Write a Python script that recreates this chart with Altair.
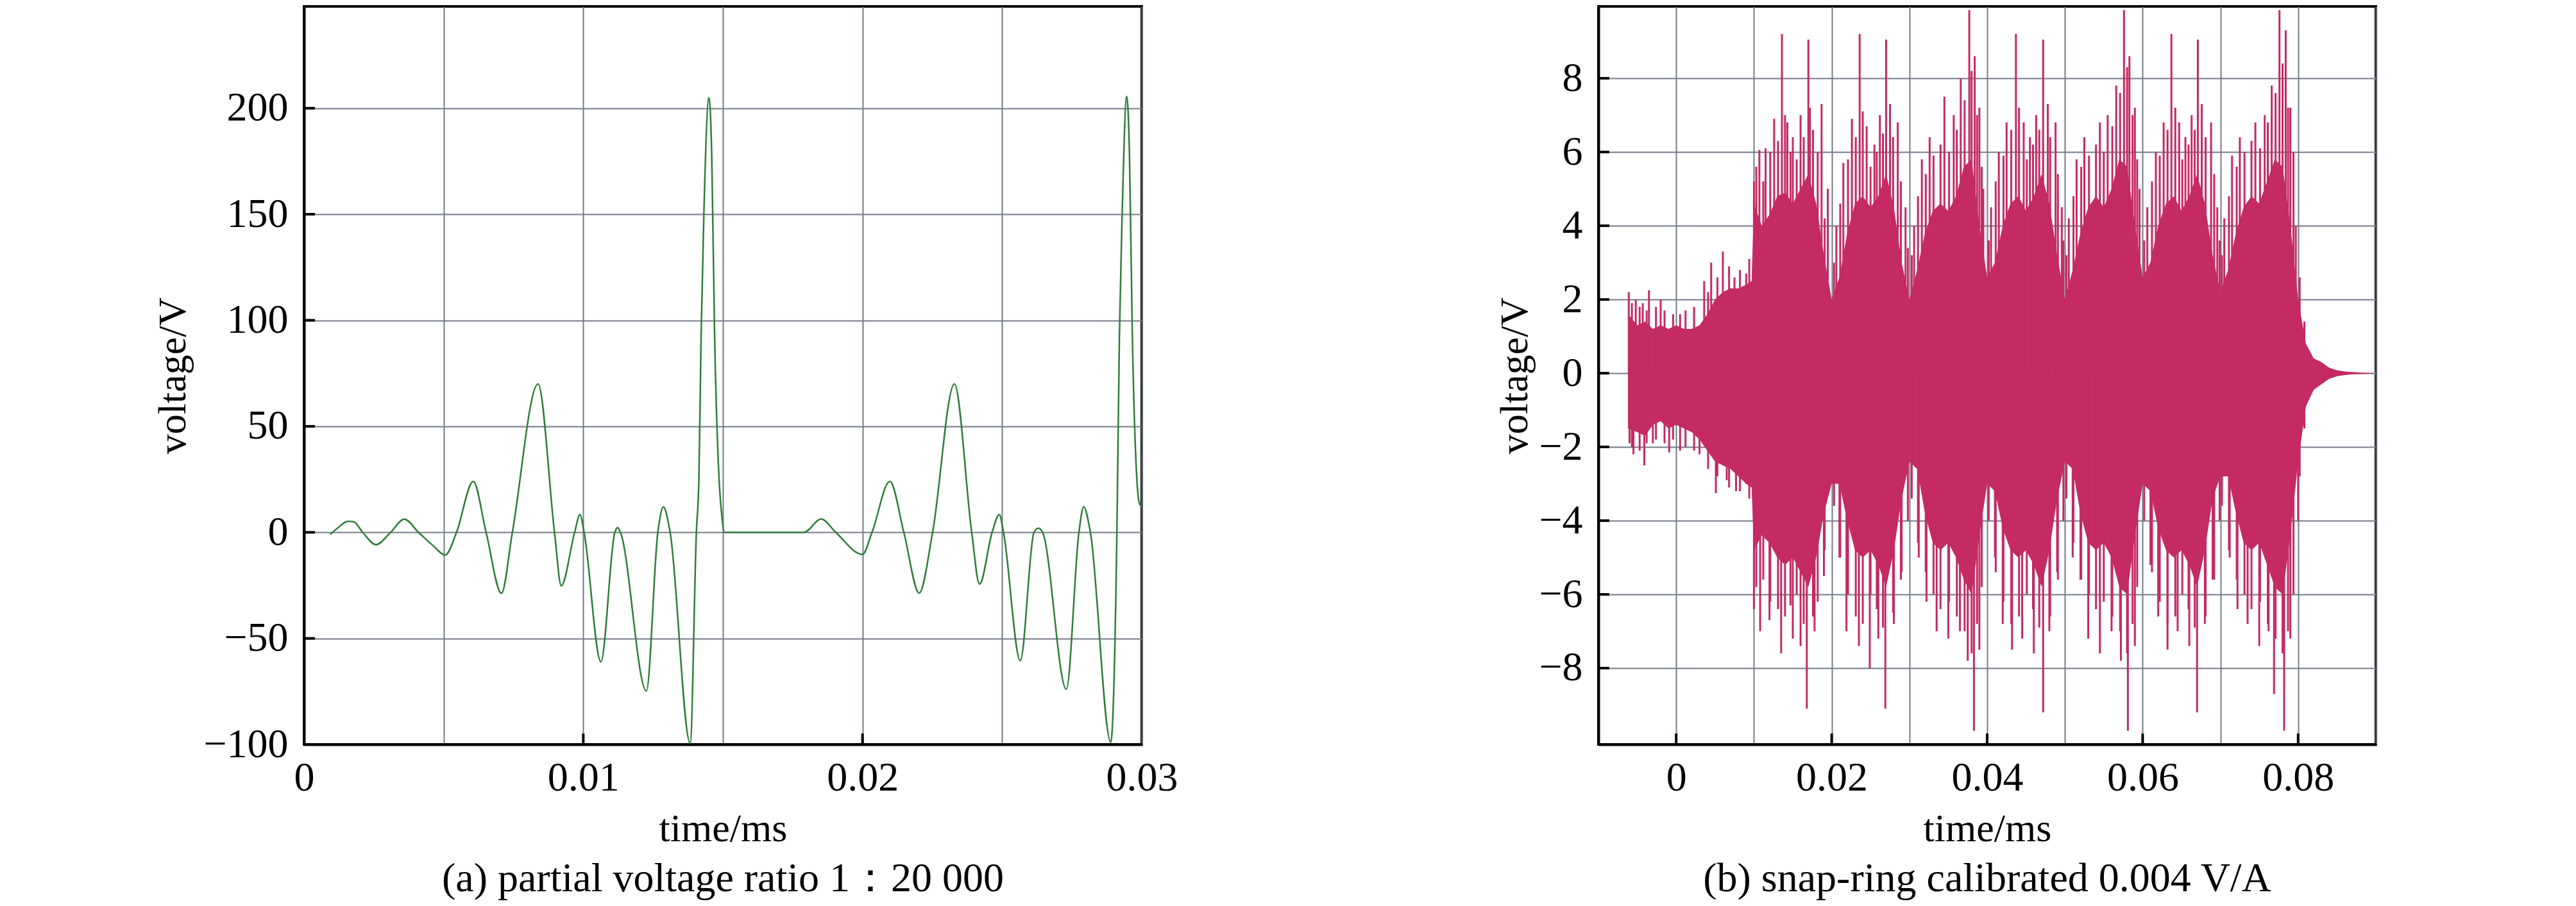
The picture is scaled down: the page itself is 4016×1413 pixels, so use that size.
import altair as alt
import pandas as pd

FONT = "Liberation Serif"
GRID = "#737a88"
GREEN = "#2f7d3a"
CRIMSON = "#c42a63"

# ---------------- (a) partial voltage ratio ----------------
a_time = [0.00094, 0.0012, 0.00157, 0.00178, 0.0021, 0.00258, 0.0031, 0.00359, 0.0041,
          0.0046, 0.00506, 0.00546, 0.00606, 0.00652, 0.00707, 0.00746, 0.00838, 0.00897,
          0.00921, 0.00969, 0.00988, 0.01003, 0.01063, 0.01113, 0.01123, 0.01133, 0.01226,
          0.01267, 0.01287, 0.01311, 0.01383, 0.01405, 0.01414, 0.01422, 0.01432, 0.0145,
          0.0146, 0.0147, 0.01486, 0.01496, 0.01506, 0.0179, 0.01852, 0.01904, 0.0200,
          0.02034, 0.02098, 0.02148, 0.02203, 0.02251, 0.02329, 0.02391, 0.02419, 0.02464,
          0.0249, 0.02505, 0.02565, 0.02614, 0.0263, 0.02645, 0.0273, 0.02775, 0.02792,
          0.02816, 0.02889, 0.02911, 0.0292, 0.0293, 0.02946, 0.02956, 0.02966, 0.02982,
          0.02992, 0.0300]
a_volt = [-1, 2, 5.2, 5, 0, -5.8, 0, 6.2, 0,
          -6, -10.7, 0, 24, 0, -28.7, 0, 70, 0,
          -25.2, 0, 8.4, 0, -61, 0, 2.3, 0, -74.8,
          0, 12, 0, -99.6, 0, 25, 93, 151, 205,
          178, 95, 26, 8, 0, 0, 6.3, 0, -10.4,
          0, 24, 0, -28.6, 0, 70, 0, -24.4, 0,
          8.4, 0, -60.5, 0, 2, 0, -74, 0, 12,
          0, -99, 0, 93, 151, 205.6, 178, 95, 26,
          13.5, 12]

a_xgrid = [0, 0.005, 0.01, 0.015, 0.02, 0.025, 0.03]
a_xlabels = ["0", "0.01", "0.02", "0.03"]
a_xticks = [0.01, 0.02]
a_yticks = [-100, -50, 0, 50, 100, 150, 200]
a_domain_x = [0, 0.03]
a_domain_y = [-100, 248]

# ---------------- (b) snap-ring ----------------
b_time = [-0.0062, -0.005, -0.004, -0.003, -0.002, -0.001, 0.000, 0.001, 0.002, 0.003,
          0.004, 0.005, 0.006, 0.007, 0.008, 0.009, 0.0097, 0.010, 0.011, 0.012,
          0.013, 0.014, 0.015, 0.016, 0.017, 0.018, 0.019, 0.020, 0.021, 0.022,
          0.023, 0.024, 0.025, 0.026, 0.027, 0.028, 0.029, 0.030, 0.031, 0.032,
          0.033, 0.034, 0.035, 0.036, 0.037, 0.038, 0.039, 0.040, 0.041, 0.042,
          0.043, 0.044, 0.045, 0.046, 0.047, 0.048, 0.049, 0.050, 0.051, 0.052,
          0.053, 0.054, 0.055, 0.056, 0.057, 0.058, 0.059, 0.060, 0.061, 0.062,
          0.063, 0.064, 0.065, 0.066, 0.067, 0.068, 0.069, 0.070, 0.071, 0.072,
          0.073, 0.074, 0.075, 0.076, 0.077, 0.078, 0.079, 0.080, 0.081, 0.082,
          0.083, 0.084, 0.085, 0.086, 0.087, 0.088, 0.089, 0.090]
b_upper = [1.6, 1.3, 1.4, 1.2, 1.3, 1.2, 1.3, 1.2, 1.2, 1.3,
           1.6, 2.0, 2.2, 2.3, 2.3, 2.4, 2.5, 4.6, 4.0, 4.3,
           4.8, 4.9, 4.6, 5.0, 5.4, 4.6, 3.2, 2.0, 2.6, 3.8,
           4.6, 4.8, 4.5, 4.8, 5.4, 4.5, 3.0, 2.0, 2.8, 3.8,
           4.4, 4.6, 4.4, 4.8, 5.6, 5.8, 4.0, 2.6, 3.0, 4.0,
           4.6, 4.8, 4.4, 4.8, 5.4, 4.6, 3.2, 2.0, 2.8, 3.8,
           4.5, 4.8, 4.5, 5.0, 5.8, 5.6, 4.0, 2.6, 3.0, 4.0,
           4.6, 4.8, 4.4, 4.8, 5.4, 4.6, 3.2, 2.2, 2.8, 3.8,
           4.5, 4.8, 4.6, 5.2, 5.8, 5.6, 4.0, 2.0, 0.8, 0.4,
           0.3, 0.15, 0.08, 0.05, 0.03, 0.02, 0.01, 0.0]
b_lower = [-1.5, -1.6, -1.7, -1.4, -1.3, -1.5, -1.4, -1.5, -1.6, -1.8,
           -2.1, -2.4, -2.5, -2.6, -2.8, -3.0, -3.1, -4.8, -4.4, -4.6,
           -5.0, -5.2, -5.0, -5.4, -5.8, -5.0, -3.8, -3.0, -3.0, -4.0,
           -4.8, -5.0, -4.8, -5.2, -5.8, -4.8, -3.4, -2.4, -2.6, -3.8,
           -4.6, -4.8, -4.6, -5.0, -5.6, -6.0, -4.4, -3.0, -3.2, -4.2,
           -4.8, -5.0, -4.8, -5.2, -5.8, -4.8, -3.4, -2.4, -2.6, -3.8,
           -4.6, -4.8, -4.6, -5.0, -5.8, -6.0, -4.4, -3.0, -3.2, -4.2,
           -4.8, -5.0, -4.8, -5.2, -5.8, -4.8, -3.4, -2.8, -2.8, -3.8,
           -4.6, -4.8, -4.6, -5.2, -5.8, -6.0, -4.4, -2.4, -0.9, -0.45,
           -0.3, -0.15, -0.08, -0.05, -0.03, -0.02, -0.01, 0.0]

# tall positive spikes
b_spike_t = [-0.0061, -0.0052, -0.0043, -0.0035, -0.0020, 0.0005, 0.0036, 0.0045, 0.0060,
             0.0075, 0.0090,
             0.0100, 0.0107, 0.0115, 0.0126, 0.0136, 0.0143, 0.0150, 0.0160, 0.0170, 0.0172,
             0.0187, 0.0195,
             0.0206, 0.0215, 0.0226, 0.0236, 0.0245, 0.0255, 0.0262, 0.0270, 0.0275, 0.0285,
             0.0295,
             0.0306, 0.0316, 0.0326, 0.0345, 0.0357, 0.0366, 0.0377, 0.0384, 0.0390, 0.0395,
             0.0405, 0.0415, 0.0425, 0.0437, 0.0447, 0.0455, 0.0463, 0.0472, 0.0478, 0.0488,
             0.0496,
             0.0505, 0.0515, 0.0525, 0.0545, 0.0555, 0.0566, 0.0576, 0.0583, 0.0590, 0.0596,
             0.0606, 0.0617, 0.0627, 0.0637, 0.0647, 0.0655, 0.0663, 0.0671, 0.0676, 0.0688,
             0.0696,
             0.0705, 0.0715, 0.0725, 0.0745, 0.0757, 0.0766, 0.0776, 0.0784, 0.0790, 0.0797]
b_spike_v = [2.2, 2.0, 1.9, 2.25, 2.0, 1.6, 2.5, 3.0, 3.3,
             2.6, 2.7,
             5.2, 6.06, 6.1, 6.9, 9.2, 6.8, 6.4, 7.0, 9.05, 7.2,
             7.3, 5.0,
             4.0, 5.7, 6.9, 9.2, 6.7, 6.2, 7.0, 9.05, 7.3, 6.8,
             4.5,
             4.0, 5.8, 6.4, 7.5, 7.0, 8.0, 9.85, 8.6, 7.2, 5.0,
             4.5, 6.0, 6.8, 9.2, 6.8, 6.4, 7.0, 9.05, 7.3, 6.8,
             4.5,
             4.2, 5.8, 6.4, 6.8, 7.0, 7.8, 9.85, 8.6, 7.2, 5.0,
             4.5, 6.0, 6.8, 9.2, 6.8, 6.4, 7.0, 9.05, 7.3, 6.8,
             4.5,
             4.2, 5.9, 6.4, 6.8, 7.0, 7.8, 9.85, 9.3, 7.2, 4.0]
# deep negative spikes
b_dip_t = [-0.0060, -0.0055, -0.0041, -0.0030, -0.0009, 0.0005, 0.0030, 0.0051, 0.0065,
           0.0077, 0.0090,
           0.0100, 0.0108, 0.0120, 0.0135, 0.0150, 0.0160, 0.0168, 0.0178, 0.0190,
           0.0210, 0.0219, 0.0235, 0.0249, 0.0260, 0.0269, 0.0280, 0.0290,
           0.0312, 0.0322, 0.0335, 0.0350, 0.0365, 0.0375, 0.0383, 0.0390,
           0.0410, 0.0420, 0.0432, 0.0445, 0.0460, 0.0472, 0.0480, 0.0490,
           0.0510, 0.0520, 0.0530, 0.0545, 0.0560, 0.0572, 0.0581, 0.0590,
           0.0610, 0.0620, 0.0632, 0.0645, 0.0660, 0.0670, 0.0680, 0.0690,
           0.0712, 0.0722, 0.0735, 0.0750, 0.0762, 0.0769, 0.0782, 0.0790, 0.0800]
b_dip_v = [-1.9, -2.2, -2.5, -1.9, -2.15, -2.1, -2.2, -3.25, -2.9,
           -3.2, -3.0,
           -6.4, -7.0, -6.7, -7.6, -7.2, -7.4, -9.1, -7.0, -5.5,
           -5.0, -7.0, -7.4, -8.0, -7.2, -9.1, -6.8, -5.4,
           -5.0, -6.2, -7.0, -7.2, -7.0, -7.8, -9.7, -7.5,
           -5.0, -6.8, -7.5, -7.2, -7.6, -9.2, -7.0, -5.4,
           -5.0, -5.6, -7.2, -7.6, -7.0, -7.8, -9.7, -7.4,
           -5.2, -6.6, -7.5, -7.0, -7.4, -9.2, -6.8, -5.6,
           -5.0, -6.4, -6.8, -7.4, -7.0, -8.7, -9.7, -7.2, -4.0]
# medium spikes (ragged edge of the dense fill)
b_mid_t = [-0.0057, -0.0047, -0.0038, -0.0026, -0.0015, -0.0004, 0.0012, 0.0023, 0.0041,
           0.0053, 0.0068, 0.0082, 0.0094,
           0.0103, 0.0112, 0.0121, 0.0131, 0.0140, 0.0147, 0.0155, 0.0164, 0.0176, 0.0182,
           0.0191,
           0.0203, 0.0211, 0.0221, 0.0231, 0.0240, 0.0250, 0.0258, 0.0266, 0.0279, 0.0289,
           0.0298,
           0.0303, 0.0311, 0.0321, 0.0331, 0.0340, 0.0351, 0.0361, 0.0371, 0.0380, 0.0387,
           0.0393,
           0.0402, 0.0411, 0.0421, 0.0431, 0.0441, 0.0451, 0.0459, 0.0467, 0.0481, 0.0491,
           0.0498,
           0.0502, 0.0511, 0.0521, 0.0531, 0.0540, 0.0550, 0.0561, 0.0571, 0.0580, 0.0587,
           0.0593,
           0.0602, 0.0612, 0.0622, 0.0632, 0.0642, 0.0651, 0.0659, 0.0667, 0.0681, 0.0692,
           0.0699,
           0.0702, 0.0711, 0.0721, 0.0731, 0.0740, 0.0751, 0.0761, 0.0771, 0.0780, 0.0787,
           0.0794, 0.0802, 0.0808]
b_mid_hi = [1.9, 1.8, 1.7, 1.8, 1.7, 1.6, 1.7, 1.8, 2.2,
            2.6, 2.9, 2.8, 3.1,
            5.6, 5.2, 6.0, 6.3, 7.0, 6.0, 5.8, 6.4, 6.6, 6.0,
            4.2,
            3.0, 4.6, 5.8, 6.4, 7.1, 5.6, 6.0, 6.5, 6.4, 5.2,
            3.4,
            3.2, 4.8, 5.4, 5.9, 6.2, 6.0, 6.6, 7.4, 8.2, 7.0,
            5.6,
            3.6, 5.2, 5.9, 6.6, 7.2, 5.8, 6.2, 6.6, 6.4, 5.4,
            3.6,
            3.2, 4.8, 5.6, 5.9, 6.2, 6.0, 6.7, 7.6, 8.3, 7.0,
            5.8,
            3.6, 5.2, 5.9, 6.6, 7.2, 5.8, 6.2, 6.6, 6.4, 5.4,
            3.6,
            3.2, 4.8, 5.6, 6.0, 6.3, 6.1, 6.8, 7.6, 8.4, 7.2,
            6.0, 2.6, 1.4]
b_mid_lo = [-2.0, -2.1, -1.9, -1.8, -1.9, -1.8, -2.0, -2.1, -2.6,
            -2.8, -3.1, -3.2, -3.4,
            -5.8, -5.6, -6.2, -6.4, -6.6, -6.3, -6.0, -6.8, -6.6, -6.2,
            -4.8,
            -3.6, -5.0, -6.0, -6.6, -6.8, -6.0, -6.4, -6.9, -6.5, -5.6,
            -4.0,
            -3.4, -4.6, -5.4, -6.0, -6.4, -6.2, -6.6, -7.0, -7.6, -6.8,
            -5.8,
            -4.0, -5.4, -6.2, -6.8, -6.6, -6.0, -6.4, -6.9, -6.6, -5.6,
            -4.0,
            -3.4, -4.6, -5.6, -6.0, -6.4, -6.2, -6.6, -7.0, -7.6, -6.8,
            -5.8,
            -4.0, -5.4, -6.2, -6.8, -6.6, -6.0, -6.4, -6.9, -6.6, -5.6,
            -4.0,
            -3.6, -4.8, -5.6, -6.0, -6.4, -6.2, -6.8, -7.2, -7.6, -7.0,
            -6.0, -2.8, -1.5]

b_xgrid = [-0.01, 0.0, 0.01, 0.02, 0.03, 0.04, 0.05, 0.06, 0.07, 0.08, 0.09]
b_xlabels = ["0", "0.02", "0.04", "0.06", "0.08"]
b_xticks = [0.0, 0.02, 0.04, 0.06, 0.08]
b_yticks = [-8, -6, -4, -2, 0, 2, 4, 6, 8]
b_domain_x = [-0.01, 0.09]
b_domain_y = [-10.07, 9.95]

W_A, W_B, H = 1306, 1212, 1151
TICK_LEN = 17


def label_expr(labels):
    arr = ",".join("'" + s + "'" for s in labels)
    return "indexof([" + arr + "], datum.label) >= 0 ? datum.label : ''"


def make_panel(line_layers, dom_x, dom_y, xgrid, xlabels, xticks, yticks, width,
               caption, ytitle_pad):
    xs = alt.Scale(domain=dom_x, nice=False, zero=False)
    ys = alt.Scale(domain=dom_y, nice=False, zero=False)
    x_axis = alt.Axis(values=xgrid, format="~f", labelExpr=label_expr(xlabels),
                      title="time/ms", labelFlush=False, labelOverlap=False,
                      labelPadding=20, titlePadding=17)
    y_axis = alt.Axis(values=yticks, title="voltage/V", labelFlush=False,
                      labelOverlap=False, labelPadding=25, titlePadding=ytitle_pad)
    layers = [f(xs, ys, x_axis, y_axis) for f in line_layers]
    ytick_df = pd.DataFrame({"v": yticks})
    xtick_df = pd.DataFrame({"t": xticks})
    ytk = alt.Chart(ytick_df).mark_rule(color="black", strokeWidth=4).encode(
        y=alt.Y("v:Q", scale=ys, axis=y_axis),
        x=alt.value(0), x2=alt.value(TICK_LEN))
    xtk = alt.Chart(xtick_df).mark_rule(color="black", strokeWidth=4).encode(
        x=alt.X("t:Q", scale=xs, axis=x_axis),
        y=alt.value(H), y2=alt.value(H - TICK_LEN))
    return alt.layer(*layers, ytk, xtk).properties(
        width=width, height=H,
        title=alt.TitleParams(text=caption, orient="bottom", anchor="middle",
                              frame="group", offset=16, font=FONT, fontSize=64,
                              fontWeight="normal", color="black"))


a_df = pd.DataFrame({"t": a_time, "v": a_volt})


def a_line(xs, ys, xa, ya):
    return alt.Chart(a_df).mark_line(color=GREEN, strokeWidth=2.5,
                                     interpolate="monotone", clip=True).encode(
        x=alt.X("t:Q", scale=xs, axis=xa), y=alt.Y("v:Q", scale=ys, axis=ya))


b_env = pd.DataFrame({"t": b_time, "hi": b_upper, "lo": b_lower})
b_sp = pd.DataFrame({"t": b_spike_t + b_dip_t + b_mid_t + b_mid_t,
                     "v": b_spike_v + b_dip_v + b_mid_hi + b_mid_lo})


def b_area(xs, ys, xa, ya):
    return alt.Chart(b_env).mark_area(color=CRIMSON, opacity=1, clip=True).encode(
        x=alt.X("t:Q", scale=xs, axis=xa), y=alt.Y("hi:Q", scale=ys, axis=ya),
        y2="lo:Q")


def b_spikes(xs, ys, xa, ya):
    return alt.Chart(b_sp).mark_rule(color=CRIMSON, strokeWidth=3, clip=True).encode(
        x=alt.X("t:Q", scale=xs, axis=xa), y=alt.Y("v:Q", scale=ys, axis=ya),
        y2=alt.datum(0))


left = make_panel([a_line], a_domain_x, a_domain_y, a_xgrid, a_xlabels, a_xticks,
                  a_yticks, W_A, "(a) partial voltage ratio 1：20 000", 15)
right = make_panel([b_area, b_spikes], b_domain_x, b_domain_y, b_xgrid, b_xlabels,
                   b_xticks, b_yticks, W_B, "(b) snap-ring calibrated 0.004 V/A", 5)

chart = alt.hconcat(left, right, spacing=490).properties(
    padding={"left": 228, "top": 0, "right": 0, "bottom": 0},
    background="white"
).configure_axis(
    domainColor="black", domainWidth=4, ticks=False, grid=True, gridColor=GRID,
    gridWidth=2, gridOpacity=1, labelFont=FONT, labelFontSize=64, labelColor="black",
    titleFont=FONT, titleFontSize=62, titleFontWeight="normal", titleColor="black"
).configure_view(stroke="black", strokeWidth=4)

chart.save("out.html", embed_options={"renderer": "svg", "actions": False})
